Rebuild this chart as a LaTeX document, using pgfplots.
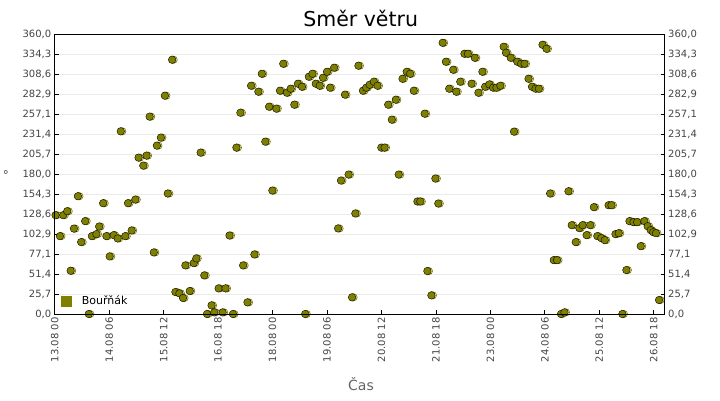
\documentclass[border=0pt]{standalone}
\usepackage{pgfplots}
\pgfplotsset{compat=1.18}
\usepackage{pgfplotstable}
\usepackage{fontspec}
\setmainfont{DejaVu Sans}
\definecolor{ol}{RGB}{128,128,0}
\definecolor{tickgray}{RGB}{68,68,68}
\definecolor{labgray}{RGB}{100,100,100}
\pgfplotstableread{
h deg
0.5 127.3
2.9 100.3
4.7 127.3
6.9 132.4
8.8 55.7
10.6 110
12.8 151.7
14.6 92.6
16.8 119.6
18.8 0
20.5 100.3
23.0 102.9
24.5 112.7
26.7 142.7
28.5 100.3
30.3 74.2
32.5 101.6
34.7 97.3
36.4 235.3
38.9 100.3
40.4 142.7
42.4 107.6
44.4 147.4
46.2 201.4
48.8 191.1
50.6 204
52.3 254.2
54.6 79.3
56.3 216.9
58.5 227.2
60.7 281.2
62.3 155.2
64.7 327.5
66.5 28.3
68.7 26.6
70.7 20.6
72.0 62.6
74.4 29.6
76.6 65.6
78.0 71.6
80.4 207.9
82.4 49.7
83.9 0
86.4 11.1
87.9 2.1
90.3 33
92.5 2.1
94.1 33
96.3 101.1
98.2 0
100.1 214.3
102.3 259.3
103.8 62.6
106.2 15
108.2 294
110.0 76.7
112.2 286.3
114.1 309.4
116.0 222
118.1 267
119.9 159
122.1 264.5
124.1 287.6
125.9 322.3
127.9 285
130.0 290.2
132.0 269.6
134.0 296.6
136.2 292.7
138.0 0
140.0 305.6
142.0 309.4
143.8 296.6
146.0 294
147.8 304.3
150.0 312
151.7 291.5
153.9 317.2
156.1 110.2
157.7 171.9
159.9 282.5
161.9 179.6
163.8 21.5
165.6 129.5
167.3 319.8
169.8 287.6
171.6 291.5
173.5 295.3
175.8 299.2
177.8 294
179.9 214.3
181.7 214.3
183.7 269.6
185.7 250.3
187.9 276
189.5 179.6
191.6 303
193.9 312
195.8 309.4
197.8 287.6
199.8 144.9
201.4 144.9
203.8 258
205.3 55.3
207.5 24
209.7 174.5
211.3 142.3
213.7 349.3
215.5 324.9
217.3 290.2
219.5 314.6
221.2 286.3
223.4 299.2
225.7 335.2
227.6 335.2
229.6 296.6
231.4 330
233.4 285
235.6 312
237.1 292.7
239.4 295.7
241.5 291.5
243.3 291.5
245.5 294
247.3 344.2
248.6 336.5
251.2 330
253.0 234.9
254.8 324.9
257.0 322.3
258.8 322.3
261.0 303
262.9 292.7
264.9 290.2
266.7 290.2
268.7 346.8
270.9 341.6
272.9 155.2
274.9 69.4
276.7 69.4
278.9 0
280.8 2.1
283.0 158.1
284.8 114.4
287.0 92.6
289.0 110.6
290.8 114.4
293.0 101.6
295.0 114.4
297.0 137.6
298.9 100.3
301.1 97.7
303.0 95.1
305.1 140.1
306.7 140.1
308.9 102.9
310.7 104.1
312.7 0
314.9 56.6
316.6 119.6
318.8 118.3
320.8 118.3
322.8 87.4
324.8 119.6
326.6 113.1
328.3 108
329.7 105.4
331.2 104.1
332.9 18
}\winddata
\pgfplotsset{
  myaxis/.style={
    at={(0pt,0pt)}, anchor=south west, scale only axis,
    width=610pt, height=279.5pt,
    xmin=0, xmax=336, ymin=0, ymax=360,
    axis line style={line width=1pt, black},
    tick style={black, line width=0.8pt},
    major tick length=4pt,
    tick align=inside,
    ytick={0,25.7143,51.4286,77.1429,102.857,128.571,154.286,180,205.714,231.429,257.143,282.857,308.571,334.286,360},
    yticklabels={{0,0},{25,7},{51,4},{77,1},{102,9},{128,6},{154,3},{180,0},{205,7},{231,4},{257,1},{282,9},{308,6},{334,3},{360,0}},
    ticklabel style={font=\fontsize{10}{12}\selectfont, text=tickgray},
  }
}
\begin{document}
\begin{tikzpicture}[x=1pt,y=1pt]
\useasboundingbox (-54.7,-86) rectangle (665.3,314);
\begin{axis}[myaxis,
    ymajorgrids, grid style={color=black!8, line width=0.8pt},
    xtick={0,30,...,330},
    xticklabels={13.08 00,14.08 06,15.08 12,16.08 18,18.08 00,19.08 06,20.08 12,21.08 18,23.08 00,24.08 06,25.08 12,26.08 18},
    xticklabel style={rotate=90, anchor=east},
    xtick pos=bottom, ytick pos=left,
    legend style={at={(0.006,0.014)}, anchor=south west, draw=none, fill=none,
      font=\fontsize{11}{13}\selectfont, inner sep=2pt,
      nodes={inner xsep=5pt}},
    legend image code/.code={\fill[ol] (0pt,-5pt) rectangle (10pt,5pt); \path[draw=none,fill=none] (10pt,0pt) -- (16pt,0pt);},
    legend cell align=left,
  ]
\addplot[only marks, mark=*, mark size=3.6pt, mark options={fill=white, draw=ol, line width=0.7pt, xshift=1.5pt}, forget plot] table[x=h,y=deg] {\winddata};
\addplot[only marks, mark=*, mark size=3.8pt, mark options={fill=ol, draw=none}] table[x=h,y=deg] {\winddata};
\addlegendentry{Bouřňák}
\end{axis}
\begin{axis}[myaxis,
    xtick=\empty, ytick pos=right, yticklabel pos=right,
  ]
\end{axis}
\node[font=\fontsize{20.5}{24}\selectfont] at (306,296) {Směr větru};
\node[font=\fontsize{14}{16}\selectfont, text=labgray] at (306.3,-70) {Čas};
\node[font=\fontsize{12}{14}\selectfont, text=tickgray] at (-48.7,139) {°};
\end{tikzpicture}
\end{document}
